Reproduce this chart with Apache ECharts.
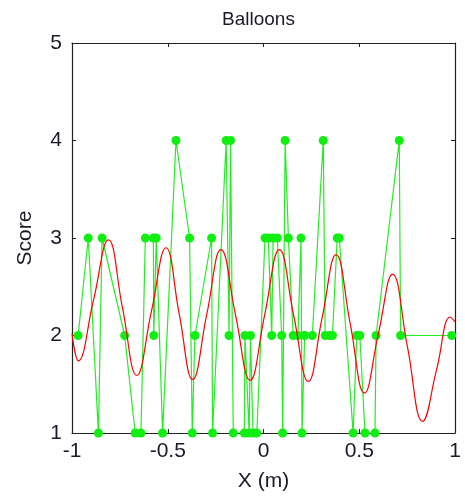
<!DOCTYPE html>
<html>
<head>
<meta charset="utf-8">
<script src="https://cdn.jsdelivr.net/npm/echarts@6/dist/echarts.min.js"></script>
<style>
  html, body { margin: 0; padding: 0; background: #fff; }
  #chart { width: 465px; height: 502px; }
</style>
</head>
<body>
<div id="chart"></div>
<script>
// 观测点 (x 位置, 得分)
var obsX = [-0.968, -0.915, -0.862, -0.843, -0.725, -0.670, -0.640, -0.617, -0.575, -0.573,
            -0.560, -0.527, -0.457, -0.386, -0.372, -0.358, -0.271, -0.266, -0.195, -0.180,
            -0.172, -0.158, -0.100, -0.097, -0.075, -0.068, -0.055, -0.035, 0.008, 0.025,
            0.043, 0.050, 0.072, 0.095, 0.100, 0.113, 0.130, 0.155, 0.180, 0.196,
            0.201, 0.215, 0.255, 0.312, 0.322, 0.345, 0.360, 0.385, 0.396, 0.468,
            0.487, 0.503, 0.530, 0.582, 0.588, 0.709, 0.716, 0.983];
var obsScore = [2, 3, 1, 3, 2, 1, 1, 3, 3, 2,
                3, 1, 4, 3, 1, 2, 3, 1, 4, 2,
                4, 1, 1, 2, 1, 2, 1, 1, 3, 3,
                2, 3, 3, 2, 1, 4, 3, 2, 2, 3,
                1, 2, 2, 4, 2, 2, 2, 3, 3, 1,
                2, 2, 1, 1, 2, 4, 2, 2];

// 拟合曲线 (从图上读的极值点和中间点)
var fitX = [-1.000, -0.967, -0.888, -0.810, -0.736, -0.662, -0.585, -0.509, -0.440, -0.370,
            -0.296, -0.222, -0.146, -0.070, 0.006, 0.083, 0.158, 0.234, 0.306, 0.379,
            0.453, 0.527, 0.600, 0.674, 0.752, 0.831, 0.905, 0.975, 1.000];
var fitY = [2.02, 1.74, 2.36, 2.98, 2.28, 1.59, 2.25, 2.90, 2.22, 1.55,
            2.22, 2.88, 2.21, 1.54, 2.21, 2.88, 2.20, 1.53, 2.18, 2.83,
            2.12, 1.41, 2.02, 2.63, 1.88, 1.12, 1.66, 2.19, 2.14];

var xTicks = [-1, -0.5, 0, 0.5, 1];
var yTicks = [1, 2, 3, 4, 5];

var myChart = echarts.init(document.getElementById('chart'));

var font = 'Liberation Sans, Arial, sans-serif';
var axisLine = { show: true, onZero: false, lineStyle: { color: '#222', width: 1.2 } };
var tick = { show: true, inside: true, length: 4, lineStyle: { color: '#222' } };

option = {
    animation: false,
    backgroundColor: '#fff',
    title: {
        text: 'Balloons',
        left: 217,
        top: 5,
        textStyle: { fontFamily: font, fontSize: 19, fontWeight: 'normal', color: '#1a1a2a' }
    },
    grid: { left: 72, right: 10, top: 43, bottom: 69 },
    xAxis: [{
        type: 'value',
        min: xTicks[0],
        max: xTicks[xTicks.length - 1],
        interval: 0.5,
        name: 'X (m)',
        nameLocation: 'middle',
        nameGap: 38,
        nameTextStyle: { fontFamily: font, fontSize: 21, color: '#1a1a2a' },
        axisLine: axisLine,
        axisTick: tick,
        axisLabel: { fontFamily: font, fontSize: 21, color: '#1a1a2a', margin: 8 },
        splitLine: { show: false }
    }, {
        type: 'value',
        position: 'top',
        min: xTicks[0],
        max: xTicks[xTicks.length - 1],
        interval: 0.5,
        axisLine: axisLine,
        axisTick: tick,
        axisLabel: { show: false },
        splitLine: { show: false }
    }],
    yAxis: [{
        type: 'value',
        min: yTicks[0],
        max: yTicks[yTicks.length - 1],
        interval: 1,
        name: 'Score',
        nameLocation: 'middle',
        nameGap: 36,
        nameTextStyle: { fontFamily: font, fontSize: 21, color: '#1a1a2a' },
        axisLine: axisLine,
        axisTick: tick,
        axisLabel: { fontFamily: font, fontSize: 21, color: '#1a1a2a', margin: 10 },
        splitLine: { show: false }
    }, {
        type: 'value',
        position: 'right',
        min: yTicks[0],
        max: yTicks[yTicks.length - 1],
        interval: 1,
        axisLine: axisLine,
        axisTick: tick,
        axisLabel: { show: false },
        splitLine: { show: false }
    }],
    series: [{
        type: 'line',
        data: obsX.map(function (x, i) { return [x, obsScore[i]]; }),
        symbol: 'circle',
        symbolSize: 9,
        itemStyle: { color: '#11ee11' },
        lineStyle: { color: '#22ee22', width: 1.2 },
        z: 2
    }, {
        type: 'line',
        data: fitX.map(function (x, i) { return [x, fitY[i]]; }),
        smooth: 0.45,
        showSymbol: false,
        lineStyle: { color: '#ff0000', width: 1.2 },
        z: 3
    }]
};
myChart.setOption(option);
</script>
</body>
</html>
